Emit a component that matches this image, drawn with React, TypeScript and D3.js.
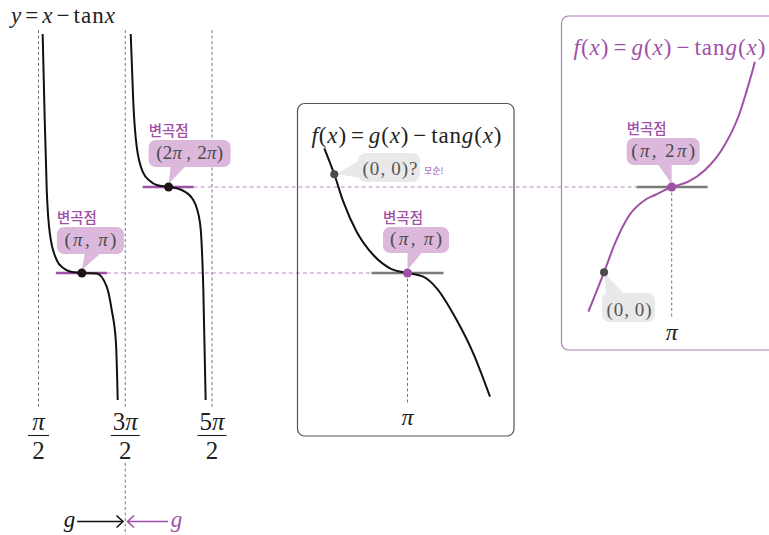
import * as d3 from "d3";

// all x / y values in units of π
const asymptotes = [0.5, 1.5, 2.5];
const tickNumerators = ["π", "3π", "5π"];
const tickDenominator = "2";

const branch1X = [0.548, 0.569, 0.595, 0.633, 0.71, 0.786, 0.863, 1.0, 1.171, 1.286, 1.344, 1.393, 1.413];
const branch1Y = [3.78, 2.895, 1.965, 1.442, 1.151, 1.058, 1.017, 1.0, 0.994, 0.841, 0.57, 0.186, -0.477];
const branch2X = [1.563, 1.593, 1.632, 1.708, 1.785, 1.862, 2.0, 2.151, 2.284, 2.362, 2.4, 2.427];
const branch2Y = [3.78, 2.977, 2.469, 2.163, 2.07, 2.023, 2.0, 1.965, 1.849, 1.581, 0.802, -0.477];

const midX = [0.041, 0.156, 0.26, 0.414, 0.606, 0.798, 1.0, 1.182, 1.337, 1.567, 1.758, 1.951];
const midY = [2.45, 2.148, 1.829, 1.48, 1.209, 1.055, 1.0, 0.957, 0.822, 0.453, 0.066, -0.438];
const rightX = [0.039, 0.22, 0.346, 0.5, 0.692, 0.807, 1.0, 1.191, 1.384, 1.576, 1.768, 1.96];
const rightY = [0.55, 1.008, 1.345, 1.655, 1.849, 1.907, 2.0, 2.062, 2.198, 2.43, 2.817, 3.457];

const inflections = [
  { x: 1, y: 1, label: ["π", "π"] },
  { x: 2, y: 2, label: ["2π", "2π"] },
];
const midPoint = { x: 0.156, y: 2.148 };
const rightPoint = { x: 0.22, y: 1.008 };

const PURPLE = "#a04fa6";
const PURPLE_LIGHT = "#dcb9dc";
const MATH = "'Liberation Serif', 'DejaVu Serif', serif";
const KR = "'Noto Sans CJK KR', sans-serif";

const y = d3.scaleLinear().domain([1, 2]).range([273, 187]);
const xLeft = d3.scaleLinear().domain([0.5, 2.5]).range([38.5, 212]);
const xMid = d3.scaleLinear().domain([0, 1]).range([407.5 - 86.75, 407.5]);
const xRight = d3.scaleLinear().domain([0, 1]).range([671.7 - 86.75, 671.7]);

function curve(xs: number[], ys: number[], sx: d3.ScaleLinear<number, number>) {
  const pts = xs.map((v, i) => [v, ys[i]] as [number, number]);
  return d3
    .line<[number, number]>()
    .x((d) => sx(d[0]))
    .y((d) => y(d[1]))
    .curve(d3.curveMonotoneX)(pts) as string;
}

// π in italic, the rest upright
function Pi({ s }: { s: string }) {
  const parts = s.split(/(π)/).filter((p) => p !== "");
  return (
    <>
      {parts.map((p, i) =>
        p === "π" ? (
          <tspan key={i} fontStyle="italic">
            π
          </tspan>
        ) : (
          <tspan key={i}>{p}</tspan>
        )
      )}
    </>
  );
}

// "(a, b)" with a wide math-style gap after the comma
function Pair({ a, b, gap = 6 }: { a: string; b: string; gap?: number }) {
  return (
    <>
      <tspan>(</tspan>
      <Pi s={a} />
      <tspan>,</tspan>
      <tspan dx={gap}>
        <Pi s={b} />
      </tspan>
      <tspan>)</tspan>
    </>
  );
}

function FTitle({ x, yy, len, fill }: { x: number; yy: number; len: number; fill: string }) {
  return (
    <text x={x} y={yy} fontFamily={MATH} fontSize={23} fill={fill} textLength={len} lengthAdjust="spacing">
      <tspan fontStyle="italic">f</tspan>
      <tspan>(</tspan>
      <tspan fontStyle="italic">x</tspan>
      <tspan>)</tspan>
      <tspan dx={4}>=</tspan>
      <tspan dx={4} fontStyle="italic">
        g
      </tspan>
      <tspan>(</tspan>
      <tspan fontStyle="italic">x</tspan>
      <tspan>)</tspan>
      <tspan dx={4}>−</tspan>
      <tspan dx={4}>tan</tspan>
      <tspan fontStyle="italic">g</tspan>
      <tspan>(</tspan>
      <tspan fontStyle="italic">x</tspan>
      <tspan>)</tspan>
    </text>
  );
}

function Callout({
  cx,
  cy,
  box,
  tail,
  len,
  children,
}: {
  cx: number;
  cy: number;
  box: [number, number, number, number];
  tail: [number, number];
  len: number;
  children: any;
}) {
  const [x0, x1, y0, y1] = box;
  return (
    <g>
      <text x={cx + x0} y={cy + y0 - 4} fontFamily={KR} fontSize={14.5} fontWeight={500} fill={PURPLE}>
        변곡점
      </text>
      <rect x={cx + x0} y={cy + y0} width={x1 - x0} height={y1 - y0} rx={7} fill={PURPLE_LIGHT} />
      <path
        d={`M${cx + tail[0]},${cy + y1 - 1} L${cx + tail[1]},${cy + y1 - 1} L${cx},${cy - 3} Z`}
        fill={PURPLE_LIGHT}
      />
      <text
        x={cx + (x0 + x1) / 2}
        y={cy + y1 - 8}
        textAnchor="middle"
        fontFamily={MATH}
        fontSize={19}
        fill="#4a4a4a"
        textLength={len}
        lengthAdjust="spacing"
      >
        {children}
      </text>
    </g>
  );
}

export default function App() {
  const dash = "3,2.5";
  const dotL1 = { x: xLeft(1), y: y(1) };
  const dotL2 = { x: xLeft(2), y: y(2) };
  const dotM = { x: xMid(1), y: y(1) };
  const dotR = { x: xRight(1), y: y(2) };

  return (
    <div style={{ position: "absolute", left: 0, top: 0 }}>
      <svg width={769} height={535} style={{ display: "block", background: "#fff" }}>
        {/* left title */}
        <text x={11} y={23} fontFamily={MATH} fontSize={23} fill="#222" textLength={104} lengthAdjust="spacing">
          <tspan fontStyle="italic">y</tspan>
          <tspan dx={3}>=</tspan>
          <tspan dx={3} fontStyle="italic">
            x
          </tspan>
          <tspan dx={3}>−</tspan>
          <tspan dx={3}>tan</tspan>
          <tspan fontStyle="italic">x</tspan>
        </text>

        {/* asymptotes */}
        {asymptotes.map((a) => (
          <line key={a} x1={xLeft(a)} x2={xLeft(a)} y1={30} y2={408} stroke="#777" strokeDasharray={dash} />
        ))}
        <line x1={xLeft(1.5)} x2={xLeft(1.5)} y1={463} y2={535} stroke="#777" strokeDasharray={dash} />

        {/* tick labels as fractions */}
        {asymptotes.map((a, i) => (
          <g key={a} fontFamily={MATH} fontSize={25} fill="#222" textAnchor="middle">
            <text x={xLeft(a)} y={430}>
              <Pi s={tickNumerators[i]} />
            </text>
            <line
              x1={xLeft(a) - (i === 0 ? 10.5 : 14.5)}
              x2={xLeft(a) + (i === 0 ? 10.5 : 14.5)}
              y1={435.5}
              y2={435.5}
              stroke="#222"
              strokeWidth={1.1}
            />
            <text x={xLeft(a)} y={459}>
              {tickDenominator}
            </text>
          </g>
        ))}

        {/* horizontal dashed links */}
        <line x1={dotL1.x + 25} x2={dotM.x - 36} y1={dotL1.y} y2={dotL1.y} stroke="#b98ac0" strokeDasharray="4,3" />
        <line x1={dotL2.x + 25} x2={dotR.x - 35} y1={dotL2.y} y2={dotL2.y} stroke="#b98ac0" strokeDasharray="4,3" />

        {/* purple tangents */}
        {inflections.map((p) => (
          <line
            key={p.x}
            x1={xLeft(p.x) - 26}
            x2={xLeft(p.x) + 25}
            y1={y(p.y)}
            y2={y(p.y)}
            stroke={PURPLE}
            strokeWidth={2.5}
          />
        ))}

        {/* left branches */}
        <path d={curve(branch1X, branch1Y, xLeft)} fill="none" stroke="#111" strokeWidth={2} />
        <path d={curve(branch2X, branch2Y, xLeft)} fill="none" stroke="#111" strokeWidth={2} />

        <Callout cx={dotL1.x} cy={dotL1.y} box={[-25, 42, -46, -19]} tail={[3, 19]} len={52}>
          <Pair a={inflections[0].label[0]} b={inflections[0].label[1]} />
        </Callout>
        <Callout cx={dotL2.x} cy={dotL2.y} box={[-20, 62, -47, -20]} tail={[2, 17]} len={67}>
          <tspan>(</tspan>
          <Pi s={inflections[1].label[0]} />
          <tspan dx={4}>,</tspan>
          <tspan dx={6}>
            <Pi s={inflections[1].label[1]} />
          </tspan>
          <tspan>)</tspan>
        </Callout>
        {inflections.map((p) => (
          <circle key={p.x} cx={xLeft(p.x)} cy={y(p.y)} r={4.5} fill="#1a1414" />
        ))}

        {/* middle panel */}
        <rect x={297.5} y={103.5} width={216.5} height={332.5} rx={7} fill="none" stroke="#555" strokeWidth={1.2} />
        <FTitle x={311.5} yy={143} len={190} fill="#222" />
        <line x1={dotM.x} x2={dotM.x} y1={dotM.y} y2={403} stroke="#777" strokeDasharray={dash} />
        <text x={dotM.x} y={425} textAnchor="middle" fontFamily={MATH} fontSize={24} fontStyle="italic" fill="#222">
          π
        </text>
        <line x1={dotM.x - 36} x2={dotM.x + 36} y1={dotM.y} y2={dotM.y} stroke="#7a7a7a" strokeWidth={2.5} />
        <path d={curve(midX, midY, xMid)} fill="none" stroke="#111" strokeWidth={2} />
        <Callout cx={dotM.x} cy={dotM.y} box={[-24.5, 41.5, -46, -20]} tail={[0, 15]} len={52}>
          <Pair a="π" b="π" />
        </Callout>
        {/* (0,0)? bubble */}
        <rect x={358} y={153} width={62} height={29} rx={8} fill="#e9e9e9" />
        <path d={`M360,160 L362,178 L${xMid(midPoint.x) + 2},${y(midPoint.y)} Z`} fill="#e9e9e9" />
        <text x={362.5} y={175} fontFamily={MATH} fontSize={19} fill="#555" textLength={55} lengthAdjust="spacing">
          <Pair a="0" b="0" gap={5} />
          <tspan>?</tspan>
        </text>
        <text x={424} y={174} fontFamily={KR} fontSize={9} fill={PURPLE}>
          모순!
        </text>
        <circle cx={xMid(midPoint.x)} cy={y(midPoint.y)} r={4} fill="#4a4a4a" />
        <circle cx={dotM.x} cy={dotM.y} r={4.5} fill={PURPLE} />

        {/* right panel */}
        <rect x={561.5} y={16} width={230} height={334} rx={7} fill="none" stroke="#b57cbc" strokeWidth={1.2} />
        <FTitle x={573.5} yy={55} len={192} fill={PURPLE} />
        <line x1={dotR.x} x2={dotR.x} y1={dotR.y} y2={318} stroke="#777" strokeDasharray={dash} />
        <text x={dotR.x} y={340} textAnchor="middle" fontFamily={MATH} fontSize={24} fontStyle="italic" fill="#222">
          π
        </text>
        <line x1={dotR.x - 35} x2={dotR.x + 36} y1={dotR.y} y2={dotR.y} stroke="#7a7a7a" strokeWidth={2.5} />
        <path d={curve(rightX, rightY, xRight)} fill="none" stroke={PURPLE} strokeWidth={2} />
        <Callout cx={dotR.x} cy={dotR.y} box={[-45, 28, -49, -22]} tail={[-14, 0]} len={64}>
          <Pair a="π" b="2π" />
        </Callout>
        <rect x={602} y={293} width={53} height={29} rx={7} fill="#e9e9e9" />
        <path d={`M606,294 L624,294 L${xRight(rightPoint.x)},${y(rightPoint.y)} Z`} fill="#e9e9e9" />
        <text x={606.5} y={316} fontFamily={MATH} fontSize={19} fill="#555" textLength={45} lengthAdjust="spacing">
          <Pair a="0" b="0" gap={5} />
        </text>
        <circle cx={xRight(rightPoint.x)} cy={y(rightPoint.y)} r={4} fill="#4a4a4a" />
        <circle cx={dotR.x} cy={dotR.y} r={4.5} fill={PURPLE} />

        {/* g arrows */}
        <text x={69.5} y={527} textAnchor="middle" fontFamily={MATH} fontSize={23} fontStyle="italic" fill="#111">
          g
        </text>
        <line x1={77} x2={122.5} y1={521.5} y2={521.5} stroke="#111" strokeWidth={1.6} />
        <path d="M116.5,515.5 L123,521.5 L116.5,527.5" fill="none" stroke="#111" strokeWidth={1.6} />
        <line x1={128} x2={168} y1={521.5} y2={521.5} stroke={PURPLE} strokeWidth={1.6} />
        <path d="M134,515.5 L127.5,521.5 L134,527.5" fill="none" stroke={PURPLE} strokeWidth={1.6} />
        <text x={176.5} y={527} textAnchor="middle" fontFamily={MATH} fontSize={23} fontStyle="italic" fill={PURPLE}>
          g
        </text>
      </svg>
    </div>
  );
}
